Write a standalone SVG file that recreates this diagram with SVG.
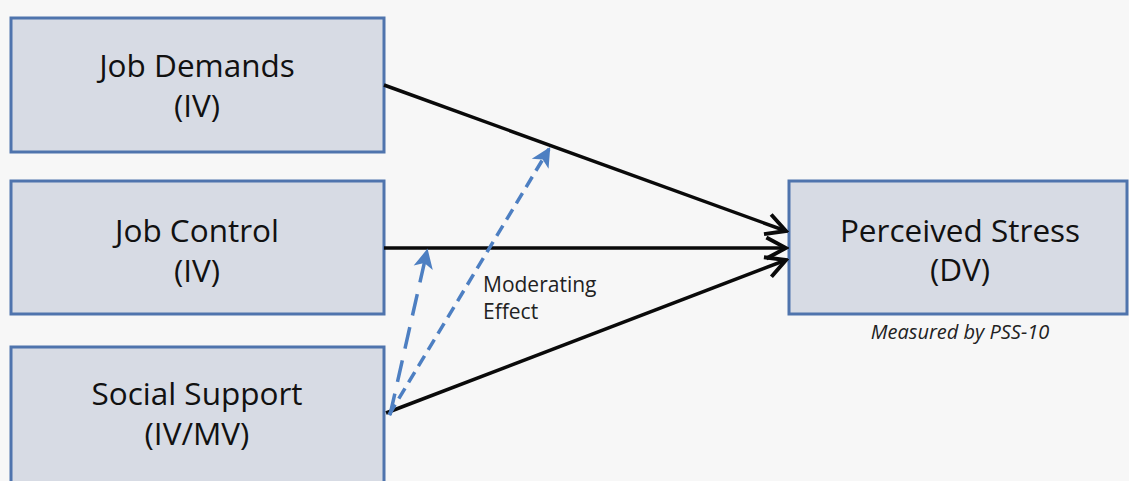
<svg xmlns="http://www.w3.org/2000/svg" width="1129" height="481" viewBox="0 0 1129 481">
  <defs>
    <style>
      .box rect { fill: #d7dbe4; stroke: #4f74ad; stroke-width: 3; }
      .lbl { font-family: "Open Sans", "Liberation Sans", sans-serif; font-size: 31.5px; fill: #111; text-anchor: middle; }
      .path { stroke: #0a0a0a; stroke-width: 3.5; fill: none; }
      .mod { stroke: #4d7fc2; stroke-width: 3.5; fill: none; }
      .note { font-family: "Open Sans", "Liberation Sans", sans-serif; fill: #222; }
    </style>
    <marker id="chev" viewBox="0 0 20 20" refX="18" refY="10" markerWidth="8" markerHeight="8" markerUnits="strokeWidth" orient="auto">
      <path d="M4,2.5 L18,10 L4,17.5" fill="none" stroke="#0a0a0a" stroke-width="2.8" stroke-linejoin="miter"/>
    </marker>
    <marker id="bhead" viewBox="0 0 20 20" refX="16" refY="10" markerWidth="7" markerHeight="7" markerUnits="strokeWidth" orient="auto">
      <path d="M2,2 L18,10 L2,18 L6,10 Z" fill="#4d7fc2"/>
    </marker>
  </defs>

  <rect x="0" y="0" width="1129" height="481" fill="#f7f7f7"/>

  <g id="job-demands" class="box">
    <rect x="11" y="18" width="373" height="134"/>
    <text class="lbl" x="197" y="77">Job Demands</text>
    <text class="lbl" x="197" y="117">(IV)</text>
  </g>

  <g id="job-control" class="box">
    <rect x="11" y="181" width="373" height="133"/>
    <text class="lbl" x="197" y="242">Job Control</text>
    <text class="lbl" x="197" y="282">(IV)</text>
  </g>

  <g id="social-support" class="box">
    <rect x="11" y="347" width="373" height="140"/>
    <text class="lbl" x="197" y="405">Social Support</text>
    <text class="lbl" x="197" y="445">(IV/MV)</text>
  </g>

  <g id="perceived-stress" class="box">
    <rect x="789" y="181" width="338" height="133"/>
    <text class="lbl" x="960" y="242">Perceived Stress</text>
    <text class="lbl" x="960" y="281">(DV)</text>
    <text class="note" x="960" y="339" font-size="20" font-style="italic" text-anchor="middle">Measured by PSS-10</text>
  </g>

  <g id="connectors">
    <line class="path" x1="384" y1="85" x2="786" y2="231" marker-end="url(#chev)"/>
    <line class="path" x1="384" y1="248" x2="786" y2="248" marker-end="url(#chev)"/>
    <line class="path" x1="386" y1="413" x2="786" y2="260" marker-end="url(#chev)"/>
    <line class="mod" x1="389" y1="415" x2="549" y2="149" stroke-dasharray="12,7" marker-end="url(#bhead)"/>
    <line class="mod" x1="390" y1="415" x2="427" y2="251" stroke-dasharray="22,12" marker-end="url(#bhead)"/>
    <text class="note" x="483" y="292" font-size="21">Moderating</text>
    <text class="note" x="483" y="319" font-size="21">Effect</text>
  </g>
</svg>
